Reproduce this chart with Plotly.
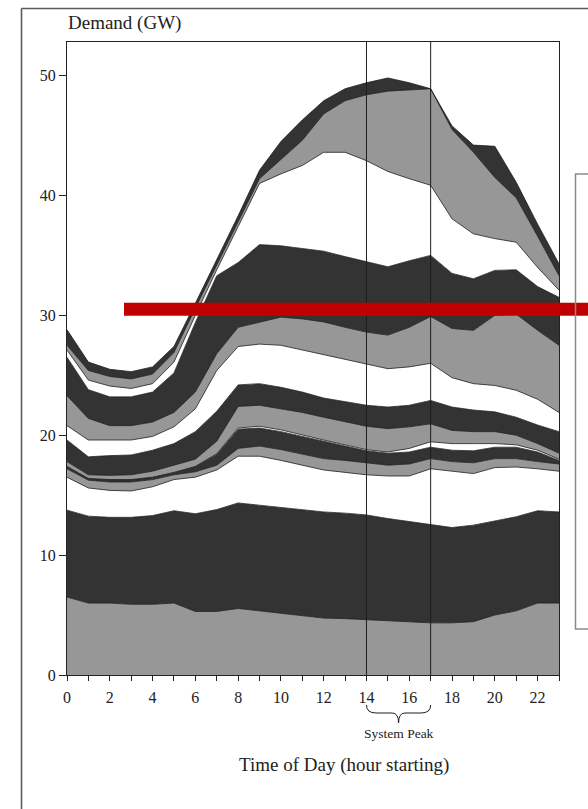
import plotly.graph_objects as go

hours = list(range(24))
x_tick_labels = [str(h) if h % 2 == 0 else "" for h in hours]
y_tick_values = [0, 10, 20, 30, 40, 50]

# cumulative top of each stacked layer (GW), bottom to top
g1 = [6.5, 6.0, 6.0, 5.9, 5.9, 6.0, 5.3, 5.3, 5.55, 5.35, 5.15, 4.95, 4.75, 4.7, 4.6, 4.55, 4.45, 4.35, 4.35, 4.45, 5.0, 5.35, 6.0, 6.0]
b1 = [13.75, 13.25, 13.15, 13.15, 13.3, 13.7, 13.45, 13.8, 14.35, 14.15, 13.95, 13.75, 13.6, 13.5, 13.35, 13.05, 12.8, 12.5, 12.3, 12.5, 12.85, 13.2, 13.7, 13.6]
w1 = [16.5, 15.6, 15.4, 15.35, 15.7, 16.3, 16.5, 17.1, 18.25, 18.25, 17.9, 17.5, 17.1, 16.9, 16.7, 16.6, 16.6, 17.2, 17.0, 16.8, 17.3, 17.35, 17.2, 17.0]
g2 = [17.2, 16.25, 16.1, 16.1, 16.3, 16.7, 16.95, 17.5, 18.9, 19.1, 18.8, 18.4, 18.05, 17.9, 17.7, 17.5, 17.6, 18.05, 17.8, 17.7, 18.05, 18.05, 17.8, 17.6]
b2 = [17.4, 16.4, 16.3, 16.3, 16.5, 16.9, 17.4, 18.4, 20.5, 20.6, 20.3, 19.9, 19.5, 19.1, 18.7, 18.5, 18.6, 19.0, 18.75, 18.7, 19.0, 19.0, 18.6, 17.9]
w2 = [17.4, 16.4, 16.3, 16.3, 16.5, 16.9, 17.4, 18.45, 20.6, 20.75, 20.45, 20.0, 19.6, 19.2, 18.8, 18.6, 18.9, 19.45, 19.3, 19.3, 19.3, 19.2, 18.75, 18.0]
g3 = [17.8, 16.7, 16.65, 16.7, 17.0, 17.5, 18.0, 19.5, 22.4, 22.5, 22.2, 21.9, 21.5, 21.1, 20.75, 20.55, 20.7, 20.95, 20.4, 20.3, 20.3, 20.0, 19.3, 18.5]
b3 = [19.6, 18.2, 18.3, 18.35, 18.75, 19.3, 20.3, 22.0, 24.2, 24.3, 24.0, 23.6, 23.1, 22.8, 22.5, 22.35, 22.5, 22.9, 22.35, 22.1, 21.95, 21.5, 20.85, 20.3]
w3 = [20.8, 19.6, 19.6, 19.6, 19.9, 20.7, 22.2, 25.4, 27.4, 27.6, 27.5, 27.1, 26.7, 26.3, 25.95, 25.55, 25.7, 26.0, 24.8, 24.3, 24.15, 23.75, 23.0, 21.9]
g4 = [23.3, 21.4, 20.8, 20.8, 21.1, 21.9, 23.6, 26.8, 29.0, 29.4, 29.85, 29.7, 29.45, 29.0, 28.6, 28.35, 29.0, 29.9, 28.9, 28.75, 30.0, 30.1, 28.75, 27.5]
b4 = [26.5, 23.8, 23.2, 23.2, 23.6, 25.2, 29.4, 33.3, 34.4, 35.9, 35.8, 35.55, 35.35, 34.9, 34.45, 34.05, 34.55, 35.0, 33.5, 33.05, 33.75, 33.8, 32.4, 31.5]
w4 = [27.1, 24.6, 24.1, 23.9, 24.3, 26.1, 30.0, 33.8, 37.4, 41.0, 41.8, 42.5, 43.6, 43.6, 42.9, 42.0, 41.4, 40.85, 38.05, 36.8, 36.4, 36.1, 34.0, 32.1]
g5 = [27.5, 25.4, 24.9, 24.7, 25.1, 26.9, 30.6, 34.2, 37.8, 41.4, 43.0, 44.6, 46.8, 47.9, 48.4, 48.7, 48.8, 48.9, 45.5, 43.6, 41.5, 39.8, 36.6, 33.3]
b5 = [28.8, 26.1, 25.5, 25.3, 25.7, 27.4, 31.0, 34.6, 38.3, 42.1, 44.5, 46.3, 47.9, 48.9, 49.4, 49.8, 49.4, 48.9, 45.8, 44.2, 44.1, 41.1, 37.6, 34.3]

layers = [g1, b1, w1, g2, b2, w2, g3, b3, w3, g4, b4, w4, g5, b5]
GRAY, BLACK, WHITE = "#979797", "#333333", "#ffffff"
fills = [GRAY, BLACK, WHITE] * 4 + [GRAY, BLACK]

peak_start, peak_end = 14, 17
red_level = 30.5

fig = go.Figure()
for i, (top, col) in enumerate(zip(layers, fills)):
    fig.add_trace(go.Scatter(
        x=hours, y=top, mode="lines",
        line=dict(color="#1e1e1e", width=0.8),
        fill="tozeroy" if i == 0 else "tonexty",
        fillcolor=col, showlegend=False, hoverinfo="skip"))

FONT = "Liberation Serif, Times New Roman, serif"

W, H = 588, 809
L, T = 67, 42                      # plot left/top in page px
R = round(W - 559.4)               # plot right at page px 559.4
B = H - 675                        # plot bottom at page px 675
pw, ph = W - L - R, H - T - B

def px(xp):   # page x pixel -> paper x
    return (xp - L) / pw
def py(yp):   # page y pixel -> paper y
    return (H - B - yp) / ph

shapes = []
for h in (peak_start, peak_end):
    shapes.append(dict(type="line", xref="x", yref="paper", x0=h, x1=h, y0=0, y1=1,
                       line=dict(color="#1e1e1e", width=1), layer="above"))
# red horizontal bar
shapes.append(dict(type="rect", xref="paper", yref="y", x0=px(124), x1=px(600),
                   y0=red_level - 0.54, y1=red_level + 0.54,
                   fillcolor="#C00000", line=dict(width=0), layer="above"))
# outer frame
shapes.append(dict(type="line", xref="paper", yref="paper", x0=px(21.5), x1=px(21.5),
                   y0=py(8.5), y1=py(812), line=dict(color="#5a5a5a", width=1.6)))
shapes.append(dict(type="line", xref="paper", yref="paper", x0=px(21.5), x1=px(600),
                   y0=py(8.5), y1=py(8.5), line=dict(color="#5a5a5a", width=1.6)))
# (clipped) legend box
shapes.append(dict(type="rect", xref="paper", yref="paper", x0=px(575.5), x1=px(610),
                   y0=py(629), y1=py(174), line=dict(color="#8a8a8a", width=1.5),
                   fillcolor="rgba(0,0,0,0)"))
# brace under system peak
ya, yb, yc = py(705), py(713), py(723)
mid = (peak_start + peak_end) / 2
brace = (f"M {peak_start},{ya} Q {peak_start},{yb} {peak_start+0.45},{yb} "
         f"L {mid-0.3},{yb} Q {mid},{yb} {mid},{yc} "
         f"Q {mid},{yb} {mid+0.3},{yb} L {peak_end-0.45},{yb} "
         f"Q {peak_end},{yb} {peak_end},{ya}")
shapes.append(dict(type="path", xref="x", yref="paper", path=brace,
                   line=dict(color="#1e1e1e", width=1)))

annotations = [
    dict(text="Demand (GW)", xref="paper", yref="paper", x=px(66), y=py(23),
         xanchor="left", yanchor="middle", showarrow=False,
         font=dict(family=FONT, size=19, color="#222")),
    dict(text="Time of Day (hour starting)", xref="paper", yref="paper",
         x=px(343.5), y=py(765), xanchor="center", yanchor="middle", showarrow=False,
         font=dict(family=FONT, size=19, color="#222")),
    dict(text="System Peak", xref="x", yref="paper", x=mid, y=py(733),
         xanchor="center", yanchor="middle", showarrow=False,
         font=dict(family=FONT, size=13.5, color="#222")),
]

fig.update_layout(
    width=W, height=H, margin=dict(l=L, r=R, t=T, b=B, pad=0),
    paper_bgcolor="white", plot_bgcolor="white",
    shapes=shapes, annotations=annotations, showlegend=False,
    xaxis=dict(range=[0, 23], tickmode="array", tickvals=hours, ticktext=x_tick_labels,
               ticks="outside", ticklen=5, tickcolor="#222", showgrid=False, zeroline=False,
               showline=True, linecolor="#222", linewidth=1, mirror=True,
               ticklabelstandoff=3,
               tickfont=dict(family=FONT, size=16, color="#222")),
    yaxis=dict(range=[0, 52.8], tickmode="array", tickvals=y_tick_values,
               ticks="outside", ticklen=7, tickcolor="#222", showgrid=False, zeroline=False,
               showline=True, linecolor="#222", linewidth=1, mirror=True,
               tickfont=dict(family=FONT, size=16, color="#222")),
)

# remove the default page margin so the figure fills the 588x809 window exactly
fig.write_html("out.html", config={"displayModeBar": False, "staticPlot": True},
               post_script="document.body.style.margin='0px';document.body.style.overflow='hidden';")
